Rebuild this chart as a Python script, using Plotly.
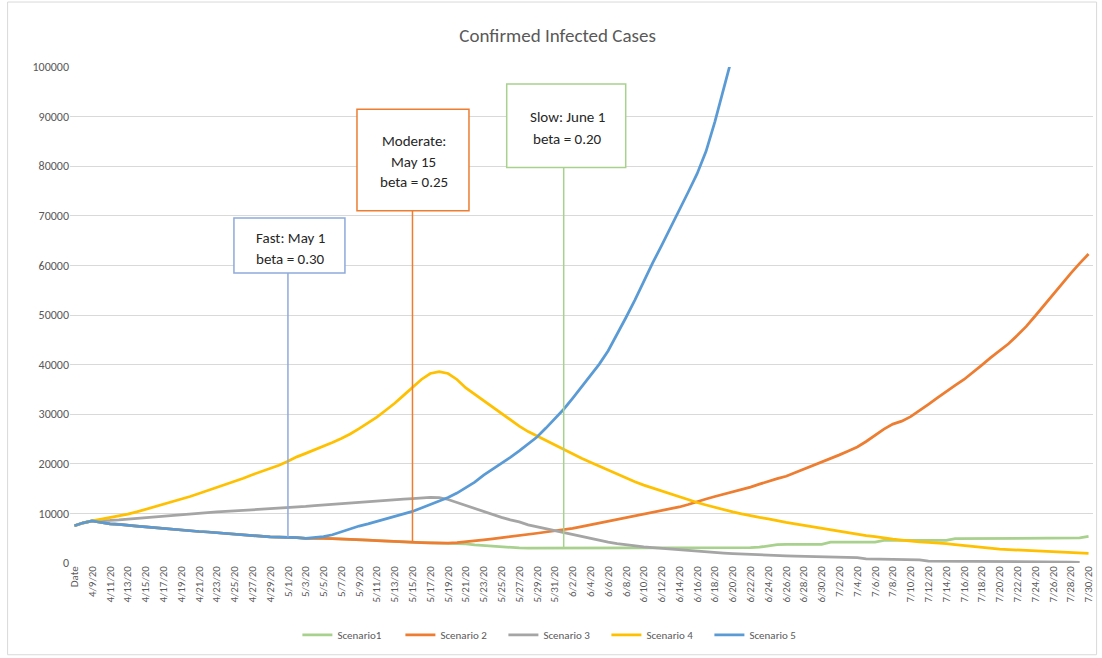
import plotly.graph_objects as go

categories = [
    "Date",
    "4/8/20", "4/9/20", "4/10/20", "4/11/20", "4/12/20", "4/13/20", "4/14/20", "4/15/20",
    "4/16/20", "4/17/20", "4/18/20", "4/19/20", "4/20/20", "4/21/20", "4/22/20", "4/23/20",
    "4/24/20", "4/25/20", "4/26/20", "4/27/20", "4/28/20", "4/29/20", "4/30/20",
    "5/1/20", "5/2/20", "5/3/20", "5/4/20", "5/5/20", "5/6/20", "5/7/20", "5/8/20", "5/9/20",
    "5/10/20", "5/11/20", "5/12/20", "5/13/20", "5/14/20", "5/15/20", "5/16/20", "5/17/20",
    "5/18/20", "5/19/20", "5/20/20", "5/21/20", "5/22/20", "5/23/20", "5/24/20", "5/25/20",
    "5/26/20", "5/27/20", "5/28/20", "5/29/20", "5/30/20", "5/31/20",
    "6/1/20", "6/2/20", "6/3/20", "6/4/20", "6/5/20", "6/6/20", "6/7/20", "6/8/20", "6/9/20",
    "6/10/20", "6/11/20", "6/12/20", "6/13/20", "6/14/20", "6/15/20", "6/16/20", "6/17/20",
    "6/18/20", "6/19/20", "6/20/20", "6/21/20", "6/22/20", "6/23/20", "6/24/20", "6/25/20",
    "6/26/20", "6/27/20", "6/28/20", "6/29/20", "6/30/20",
    "7/1/20", "7/2/20", "7/3/20", "7/4/20", "7/5/20", "7/6/20", "7/7/20", "7/8/20", "7/9/20",
    "7/10/20", "7/11/20", "7/12/20", "7/13/20", "7/14/20", "7/15/20", "7/16/20", "7/17/20",
    "7/18/20", "7/19/20", "7/20/20", "7/21/20", "7/22/20", "7/23/20", "7/24/20", "7/25/20",
    "7/26/20", "7/27/20", "7/28/20", "7/29/20", "7/30/20",
]

tick_labels = categories[::2]

common_start = [7500, 8100, 8500, 8200, 7900, 7800, 7700, 7450, 7300, 7150, 6950, 6750, 6550,
                6450, 6350, 6250, 6100, 6000, 5850, 5650, 5450, 5300, 5250, 5200, 5200, 5100, 4950]

scenario1 = common_start + [
    5000, 4950, 4900, 4850, 4800, 4700, 4600, 4500, 4400, 4300, 4200, 4150, 4100, 4050, 4000,
    4000, 4000, 3850, 3650, 3500, 3350, 3250, 3150, 3050, 3000, 3000, 3050, 3100, 3100, 3100,
    3100, 3100, 3100, 3100, 3100, 3100, 3100, 3100, 3100, 3100, 3100, 3100, 3100, 3100, 3100,
    3100, 3100, 3100, 3100, 3100, 3200, 3500, 3700, 3750, 3750, 3750, 3750, 3750, 4200, 4200,
    4200, 4200, 4200, 4200, 4550, 4550, 4550, 4550, 4550, 4550, 4550, 4550, 4900, 4900, 4900,
    4900, 4900, 4900, 5050, 5050, 5050, 5050, 5050, 5050, 5050, 5050, 5050, 5350]

scenario2 = common_start + [
    5000, 4950, 4900, 4850, 4800, 4700, 4600, 4500, 4400, 4300, 4200, 4150, 4100, 4050, 4000,
    4000, 4100, 4250, 4450, 4650, 4850, 5050, 5250, 5500, 5750, 6000, 6250, 6450, 6650, 7000,
    7350, 7700, 8050, 8400, 8750, 9100, 9500, 9850, 10150, 10450, 10800, 11300, 11800, 12400,
    12900, 13400, 13850, 14300, 14800, 15300, 15900, 16500, 17000, 17500, 18200, 18900, 19600,
    20300, 21000, 21800, 22600, 23400, 24500, 25800, 27000, 28000, 28600, 29500, 30700, 32000,
    33300, 34600, 35800, 37000, 38400, 39900, 41400, 42800, 44200, 45900, 47700, 49800, 52000,
    54200, 56300, 58400, 60400, 62300]

scenario3 = [
    7500, 8100, 8500, 8500, 8600, 8700, 8850, 9000, 9150, 9300, 9500, 9650, 9800, 9950, 10050,
    10150, 10300, 10400, 10500, 10550, 10650, 10750, 10850, 10950, 11100, 11250, 11400, 11550,
    11700, 11800, 11900, 12050, 12200, 12350, 12500, 12650, 12800, 12900, 13000, 13150, 13250,
    13200, 12800, 12200, 11600, 11000, 10300, 9700, 9200, 8700, 8300, 7700, 7300, 6900, 6500,
    6100, 5700, 5300, 4900, 4500, 4200, 3900, 3650, 3450, 3250, 3100, 2950, 2800, 2650, 2500,
    2400, 2250, 2150, 2000, 1900, 1800, 1700, 1600, 1550, 1500, 1450, 1400, 1350, 1300, 1250,
    1200, 1150, 1150, 1100, 850, 800, 800, 750, 700, 700, 650, 400, 350, 350, 350, 350, 350,
    350, 350, 350, 350, 350, 350, 350, 350, 350, 300, 200, 150]

scenario4 = [
    7500, 8100, 8500, 8800, 9100, 9450, 9850, 10300, 10800, 11300, 11800, 12300, 12900, 13400,
    14000, 14600, 15200, 15800, 16500, 17100, 17800, 18400, 19000, 19700, 20500, 21400, 22100,
    22800, 23600, 24300, 25100, 26000, 27100, 28200, 29400, 30800, 32200, 33800, 35400, 37000,
    38200, 38600, 38200, 37000, 35300, 34000, 32800, 31400, 30200, 28900, 27600, 26500, 25600,
    24600, 23700, 22800, 22000, 21100, 20300, 19500, 18700, 17900, 17100, 16400, 15700, 15100,
    14500, 13900, 13300, 12800, 12200, 11700, 11200, 10700, 10300, 9900, 9500, 9200, 8900,
    8500, 8200, 7900, 7600, 7200, 6900, 6600, 6300, 6000, 5800, 5500, 5300, 5000, 4800, 4600,
    4400, 4250, 4150, 4050, 3900, 3700, 3500, 3300, 3100, 2950, 2800, 2700, 2600, 2500, 2400,
    2300, 2200, 2100, 2050, 2000, 1950]

scenario5 = common_start + [
    5100, 5300, 5700, 6300, 6900, 7450, 7900, 8400, 8900, 9400, 9900, 10400, 11100, 11800,
    12450, 13200, 14100, 15200, 16300, 17700, 18900, 20000, 21300, 22600, 24000, 25400, 27200,
    29100, 31000, 33200, 35500, 37800, 40100, 42800, 46000, 49500, 53000, 56800, 60500, 64000,
    67500, 71000, 74800, 78500, 83000, 89000, 95500, 102500, 110000] + [None] * 39

series = [
    ("Scenario1", scenario1, "#A9D18E"),
    ("Scenario 2", scenario2, "#ED7D31"),
    ("Scenario 3", scenario3, "#A5A5A5"),
    ("Scenario 4", scenario4, "#FFC000"),
    ("Scenario 5", scenario5, "#5B9BD5"),
]

FONT = "Calibri, Carlito, Lato, sans-serif"
GREY = "#595959"

fig = go.Figure()
for name, vals, color in series:
    fig.add_trace(go.Scatter(x=categories, y=vals, name=name, mode="lines",
                             line=dict(color=color, width=2.75), connectgaps=False))

# callouts: (category, series values, box centre value, box px extents, text lines with y shifts, color)
callouts = [
    ("5/1/20", scenario5, 64000, (-54, 57, -27.5, 27.5), [("Fast: May 1", 8), ("beta = 0.30", -13)], "#8FAADC", 1),
    ("5/15/20", scenario2, 81250, (-55.5, 56.5, -50.7, 50.7), [("Moderate:", 19), ("May 15", -2), ("beta = 0.25", -22)], "#ED7D31", 1),
    ("6/1/20", scenario1, 88170, (-57, 62, -41.7, 41.7), [("Slow: June 1", 9), ("beta = 0.20", -13)], "#A9D18E", 1),
]

shapes = []
annotations = []
for cat, vals, yc, (bx0, bx1, by0, by1), lines, color, xs in callouts:
    idx = categories.index(cat)
    shapes.append(dict(type="line", xref="x", yref="y", x0=cat, x1=cat, y0=vals[idx], y1=yc,
                       line=dict(color=color, width=1.5), layer="above"))
    shapes.append(dict(type="rect", xref="x", yref="y", xsizemode="pixel", ysizemode="pixel",
                       xanchor=cat, yanchor=yc, x0=bx0, x1=bx1, y0=by0, y1=by1,
                       line=dict(color=color, width=1.5), fillcolor="white", layer="above"))
    for txt, ys in lines:
        annotations.append(dict(x=cat, y=yc, xref="x", yref="y", text=txt, showarrow=False,
                                xshift=xs + (bx0 + bx1) / 2, yshift=ys,
                                font=dict(family=FONT, size=15, color="#262626")))

# chart area border
shapes.append(dict(type="rect", xref="paper", yref="paper", x0=-0.061, x1=1.0035, y0=-0.185, y1=1.131,
                   line=dict(color="#D9D9D9", width=1), fillcolor="rgba(0,0,0,0)", layer="below"))

fig.update_layout(
    width=1102, height=658,
    margin=dict(l=70, r=7, t=67, b=95),
    paper_bgcolor="white", plot_bgcolor="white",
    font=dict(family=FONT, color=GREY),
    title=dict(text="Confirmed Infected Cases", x=0.506, xanchor="center", y=0.947, yanchor="middle",
               font=dict(family=FONT, size=19, color=GREY)),
    xaxis=dict(type="category", range=[-0.5, len(categories) - 0.5], tickmode="array",
               tickvals=tick_labels, ticktext=tick_labels, tickangle=-90,
               tickfont=dict(family=FONT, size=11, color=GREY), showgrid=False, zeroline=False,
               showline=False, ticks="", fixedrange=True),
    yaxis=dict(range=[0, 100000], dtick=10000, tickformat="d", showgrid=True, gridcolor="#D9D9D9",
               gridwidth=1, zeroline=False, showline=False, ticks="", ticklen=0,
               tickfont=dict(family=FONT, size=12, color=GREY)),
    legend=dict(orientation="h", x=0.474, xanchor="center", y=-0.145, yanchor="middle",
                font=dict(family=FONT, size=11, color=GREY), entrywidth=58, entrywidthmode="pixels",
                itemwidth=30, bgcolor="rgba(0,0,0,0)"),
    shapes=shapes,
    annotations=annotations,
)

fig.write_html("out.html", include_plotlyjs=True, config={"displayModeBar": False},
               post_script="document.body.style.margin='0';")
